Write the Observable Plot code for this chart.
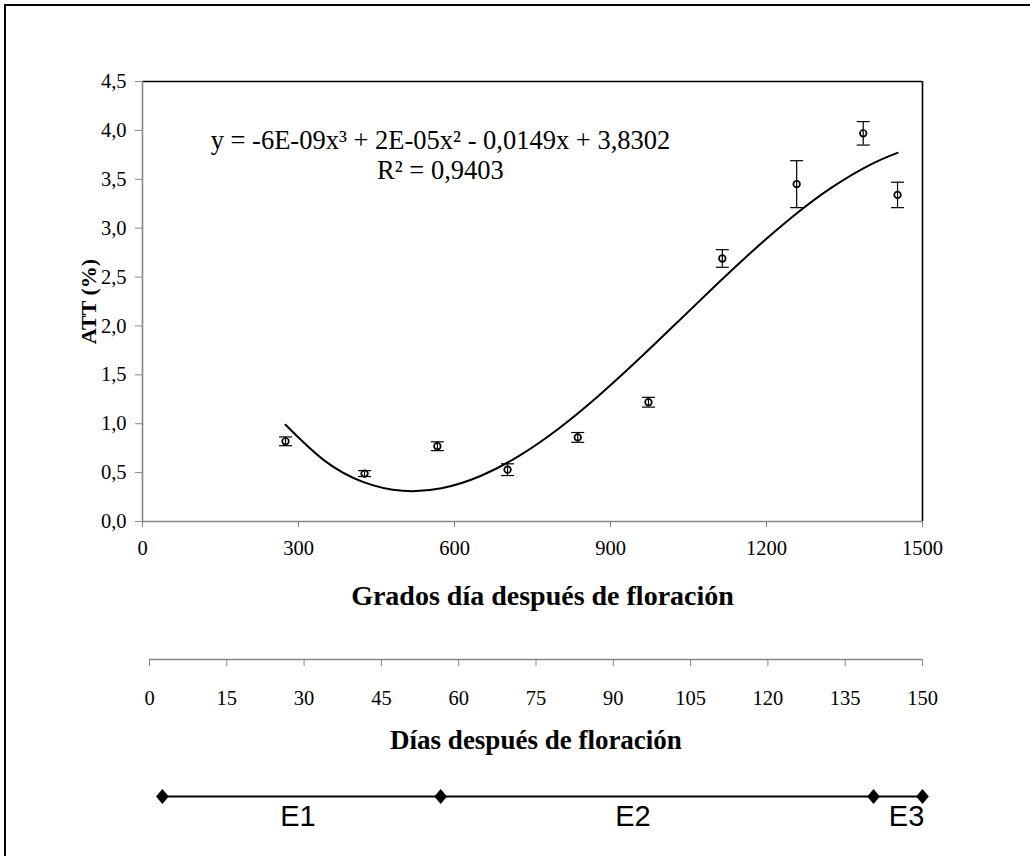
<!DOCTYPE html>
<html><head><meta charset="utf-8">
<script src="https://cdn.jsdelivr.net/npm/d3@7"></script>
<script src="https://cdn.jsdelivr.net/npm/@observablehq/plot@0.6"></script>
<style>
body{margin:0;background:#fff;}
#wrap{position:relative;width:1030px;height:856px;overflow:hidden;background:#fff;}
#frame{position:absolute;left:4px;top:4px;width:1040px;height:900px;border-left:2px solid #000;border-top:2px solid #000;}
.layer{position:absolute;left:0;}
.layer svg{background:transparent;}
.serif svg, .serif svg text{font-family:'Liberation Serif','Times New Roman','DejaVu Serif',serif !important;}
.sans svg, .sans svg text{font-family:'Liberation Sans',Arial,sans-serif !important;}
</style></head><body>
<div id="wrap"><div id="frame"></div></div>
<script>
// Measured data (grados día después de floración vs ATT %)
const grados = [275, 427, 567, 702, 837, 973, 1115, 1258, 1386, 1452];
const att = [0.82, 0.49, 0.77, 0.53, 0.86, 1.22, 2.69, 3.45, 3.97, 3.34];
const attErr = [0.045, 0.03, 0.045, 0.06, 0.05, 0.05, 0.09, 0.24, 0.12, 0.13];
// Polynomial trend line
const trendX = [275, 350, 425, 500, 575, 650, 725, 800, 875, 950, 1025, 1100, 1175, 1250, 1325, 1400, 1452];
const trendY = [0.990, 0.623, 0.403, 0.314, 0.340, 0.465, 0.674, 0.949, 1.276, 1.638, 2.019, 2.403, 2.774, 3.116, 3.414, 3.650, 3.770];
const xTicks = [0, 300, 600, 900, 1200, 1500];
const yTicks = [0, 0.5, 1, 1.5, 2, 2.5, 3, 3.5, 4, 4.5];
const diasTicks = [0, 15, 30, 45, 60, 75, 90, 105, 120, 135, 150];
const stageBounds = [2.5, 56.5, 140.5, 150];
const stageNames = ["E1", "E2", "E3"];
const stageLabelPos = [28.8, 93.8, 146.9];
const eqLine1 = "y = -6E-09x³ + 2E-05x² - 0,0149x + 3,8302";
const eqLine2 = "R² = 0,9403";
const eqCenterX = 573;
const eqY = [3.90, 3.59];

const points = grados.map((g, i) => ({x: g, y: att[i], lo: att[i] - attErr[i], hi: att[i] + attErr[i]}));
const trend = trendX.map((x, i) => ({x, y: trendY[i]}));
const stages = stageBounds.map(d => ({d}));
const stageLabels = stageNames.map((n, i) => ({n, d: stageLabelPos[i]}));

const serif = "'Liberation Serif', 'Times New Roman', serif";
const sans = "'Liberation Sans', Arial, sans-serif";
const cap = {draw(ctx, size) { const w = Math.sqrt(size / Math.PI); ctx.moveTo(-w, 0); ctx.lineTo(w, 0); }};
const diamond = {draw(ctx, size) { const r = Math.sqrt(size / Math.PI); const w = r * 0.85; ctx.moveTo(0, -r); ctx.lineTo(w, 0); ctx.lineTo(0, r); ctx.lineTo(-w, 0); ctx.closePath(); }};
const comma = d => d.toFixed(1).replace(".", ",");

const main = Plot.plot({
  width: 1030, height: 640,
  marginLeft: 142, marginRight: 108, marginTop: 81, marginBottom: 119,
  x: {domain: [0, 1500]},
  y: {domain: [0, 4.5]},
  style: {fontFamily: serif, fontSize: "20px", color: "#000", background: "transparent"},
  marks: [
    Plot.ruleY([4.5], {stroke: "#000", strokeWidth: 1.6}),
    Plot.ruleX([1500], {stroke: "#000", strokeWidth: 1.6}),
    Plot.ruleX([0], {stroke: "#868686", strokeWidth: 1.6}),
    Plot.ruleY([0], {stroke: "#868686", strokeWidth: 1.6}),
    Plot.axisY({ticks: yTicks, tickFormat: comma, tickSize: 7, tickPadding: 9, stroke: "#868686", fill: "#000", label: null, fontSize: 20.5, fontFamily: serif}),
    Plot.axisX({ticks: xTicks, tickFormat: d => String(d), tickSize: 6, tickPadding: 13, stroke: "#868686", fill: "#000", label: null, fontSize: 20.5, fontFamily: serif}),
    Plot.line(trend, {x: "x", y: "y", curve: "natural", stroke: "#000", strokeWidth: 2}),
    Plot.ruleX(points, {x: "x", y1: "lo", y2: "hi", stroke: "#000", strokeWidth: 1.2}),
    Plot.dot(points, {x: "x", y: "hi", symbol: cap, r: 6.5, stroke: "#000", strokeWidth: 1.2}),
    Plot.dot(points, {x: "x", y: "lo", symbol: cap, r: 6.5, stroke: "#000", strokeWidth: 1.2}),
    Plot.dot(points, {x: "x", y: "y", r: 3.3, stroke: "#000", strokeWidth: 1.7, fill: "none"}),
    Plot.text([eqLine1], {x: eqCenterX, y: eqY[0], textAnchor: "middle", fontSize: 26.5, fill: "#000", fontFamily: serif}),
    Plot.text([eqLine2], {x: eqCenterX, y: eqY[1], textAnchor: "middle", fontSize: 26.5, fill: "#000", fontFamily: serif}),
    Plot.text(["Grados día después de floración"], {frameAnchor: "bottom", dx: 10, dy: 83, fontWeight: "bold", fontSize: 28, fill: "#000", fontFamily: serif}),
    Plot.text(["ATT (%)"], {frameAnchor: "left", textAnchor: "middle", dx: -54, rotate: -90, fontWeight: "bold", fontSize: 22, fill: "#000", fontFamily: serif})
  ]
});

const dias = Plot.plot({
  width: 1030, height: 130,
  marginLeft: 149, marginRight: 108, marginTop: 29, marginBottom: 101,
  x: {domain: [0, 150]},
  y: {domain: [0, 1], axis: null},
  style: {fontFamily: serif, fontSize: "20px", color: "#000", background: "transparent"},
  marks: [
    Plot.ruleY([0], {stroke: "#868686", strokeWidth: 1.6}),
    Plot.axisX({ticks: diasTicks, tickFormat: d => String(d), tickSize: 7, tickPadding: 24, stroke: "#868686", fill: "#000", label: null, fontSize: 20.5, fontFamily: serif}),
    Plot.text(["Días después de floración"], {frameAnchor: "bottom", dy: 89, fontWeight: "bold", fontSize: 27, fill: "#000", fontFamily: serif})
  ]
});

const stageP = Plot.plot({
  width: 1030, height: 70,
  marginLeft: 149, marginRight: 108, marginTop: 26, marginBottom: 44,
  x: {domain: [0, 150], axis: null},
  y: {domain: [0, 1], axis: null},
  style: {fontFamily: sans, fontSize: "22px", color: "#000", background: "transparent"},
  marks: [
    Plot.ruleY([0], {x1: stageBounds[0], x2: stageBounds[stageBounds.length - 1], stroke: "#000", strokeWidth: 2.2}),
    Plot.dot(stages, {x: "d", y: 0, symbol: diamond, r: 7.5, fill: "#000", stroke: "none"}),
    Plot.text(stageLabels, {x: "d", y: 0, text: "n", dy: 20, fontSize: 29, fill: "#000", fontFamily: sans})
  ]
});

const wrap = document.getElementById("wrap");
[[main, 0, "serif"], [dias, 630, "serif"], [stageP, 770, "sans"]].forEach(([el, top, cls]) => {
  const d = document.createElement("div");
  d.className = "layer " + cls;
  d.style.top = top + "px";
  d.appendChild(el);
  wrap.appendChild(d);
});
</script>
</body></html>
